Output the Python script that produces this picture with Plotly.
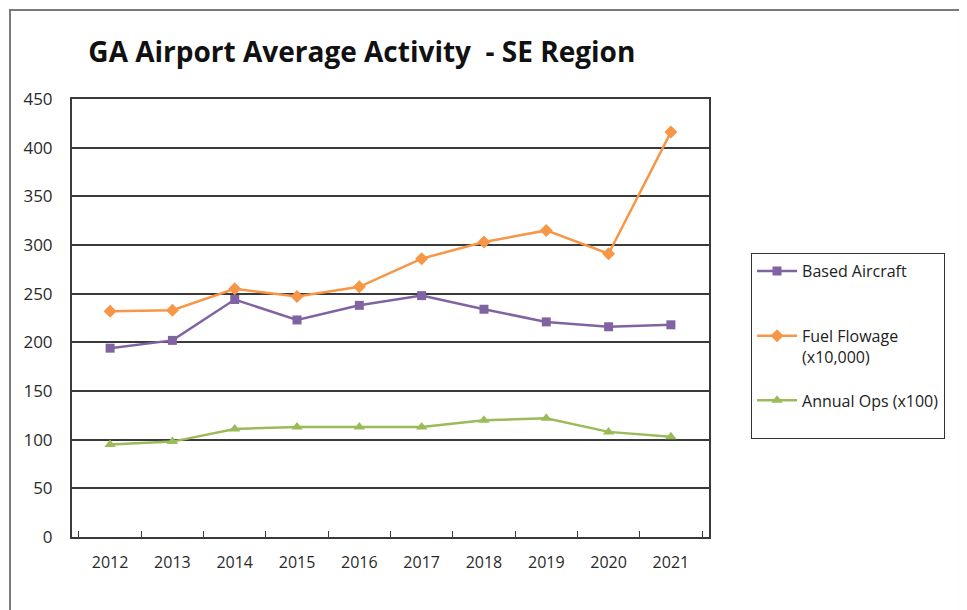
import plotly.graph_objects as go

years = ["2012", "2013", "2014", "2015", "2016", "2017", "2018", "2019", "2020", "2021"]
based_aircraft = [194, 202, 244, 223, 238, 248, 234, 221, 216, 218]
fuel_flowage = [232, 233, 255, 247, 257, 286, 303, 315, 291, 416]
annual_ops = [95, 98, 111, 113, 113, 113, 120, 122, 108, 103]

FONT = "'Open Sans', sans-serif"
GRID = "#3a3a3a"

fig = go.Figure()

# blank second lines keep the legend spacing like the original
series = [
    ("Based Aircraft<br> ", based_aircraft, "#8064A2", "square", 9),
    ("Fuel Flowage<br>(x10,000)", fuel_flowage, "#F79646", "diamond", 10),
    ("Annual Ops (x100)<br> ", annual_ops, "#9BBB59", "triangle-up", 10),
]
for i, (name, vals, color, symbol, msize) in enumerate(series):
    fig.add_trace(
        go.Scatter(
            x=years,
            y=vals,
            mode="lines+markers",
            name=name,
            legendgroup=f"g{i}",
            line=dict(color=color, width=2.5),
            marker=dict(symbol=symbol, size=msize, color=color),
        )
    )

# outer chart frame
fig.add_shape(
    type="rect", xref="paper", yref="paper",
    x0=-0.0973, x1=1.394, y0=-0.25, y1=1.2032,
    line=dict(color="#7a7a7a", width=2), layer="above",
)

fig.update_layout(
    width=959,
    height=602,
    margin=dict(l=64, r=258, t=91, b=73),
    paper_bgcolor="white",
    plot_bgcolor="white",
    title=dict(
        text="<b>GA Airport Average Activity  - SE Region</b>",
        x=0.369, xanchor="center", xref="container",
        y=0.927, yanchor="middle",
        font=dict(family=FONT, size=28, color="#111111"),
    ),
    font=dict(family=FONT, size=15, color="#2a2a2a"),
    showlegend=True,
    legend=dict(
        x=1.066, xanchor="left",
        y=0.648, yanchor="top",
        valign="top",
        bordercolor="#333333", borderwidth=1,
        bgcolor="white",
        tracegroupgap=20,
        font=dict(family=FONT, size=16, color="#222222"),
        itemwidth=40,
    ),
    xaxis=dict(
        type="category",
        showline=True, linecolor=GRID, linewidth=2, mirror=True,
        ticks="inside", tickson="boundaries", ticklen=6, tickcolor=GRID,
        showgrid=False,
        ticklabelstandoff=10,
        tickfont=dict(size=16),
    ),
    yaxis=dict(
        range=[0, 450],
        dtick=50,
        showline=True, linecolor=GRID, linewidth=2, mirror=True,
        showgrid=True, gridcolor=GRID, gridwidth=2,
        zeroline=False,
        ticks="",
        ticklabelstandoff=14,
        tickfont=dict(size=17),
    ),
)

fig.write_html("out.html")
